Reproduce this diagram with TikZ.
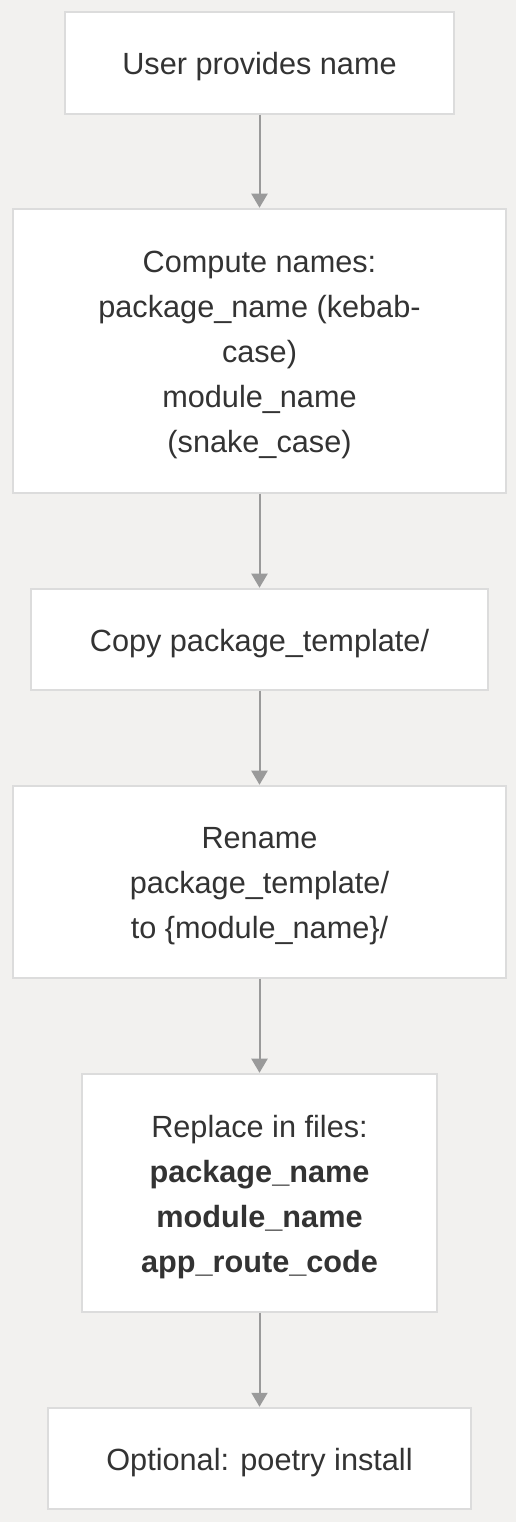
\documentclass[tikz,border=0pt]{standalone}
\usepackage{fontspec}
\setmainfont{Liberation Sans}
\usetikzlibrary{arrows.meta}
\definecolor{bgc}{HTML}{F2F1EF}
\definecolor{boxline}{HTML}{DCDCDC}
\definecolor{txt}{HTML}{333333}
\definecolor{arr}{HTML}{9A9A9A}
\newcommand{\tpad}{\rule{0pt}{22.5pt}}
\tikzset{
  box/.style={draw=boxline, line width=0.9pt, fill=white, rectangle, inner sep=0pt,
    align=center, text=txt, font=\fontsize{23}{33.75}\selectfont},
  flow/.style={draw=arr, line width=1.5pt, -{Triangle[width=12pt,length=10.5pt]}, shorten >=0.5pt}
}
\begin{document}
\begin{tikzpicture}[x=0.75pt,y=-0.75pt]
\useasboundingbox (0,0) rectangle (516,1522);
\fill[bgc] (0,0) rectangle (516,1522);
\node[box, minimum width=291.75pt, minimum height=76.5pt] (n1) at (259.5,63) {\tpad User provides name};
\node[box, minimum width=369.75pt, minimum height=213pt] (n2) at (259.5,351) {\tpad Compute names:\\package\_name (kebab-\\case)\\module\_name\\ (snake\_case)};
\node[box, minimum width=342.75pt, minimum height=75.75pt] (n3) at (259.5,639.5) {\tpad Copy package\_template/};
\node[box, minimum width=369.75pt, minimum height=144pt] (n4) at (259.5,882) {\tpad Rename\\package\_template/\\to \{module\_name\}/};
\node[box, minimum width=266.25pt, minimum height=178.5pt] (n5) at (259.5,1193) {\tpad Replace in files:\\\textbf{package\_name}\\\textbf{module\_name}\\\textbf{app\_route\_code}};
\node[box, minimum width=317.25pt, minimum height=75.75pt] (n6) at (259.5,1458.5) {\tpad Optional: poetry install};
\draw[flow] (n1.south) -- (n2.north);
\draw[flow] (n2.south) -- (n3.north);
\draw[flow] (n3.south) -- (n4.north);
\draw[flow] (n4.south) -- (n5.north);
\draw[flow] (n5.south) -- (n6.north);
\end{tikzpicture}
\end{document}
